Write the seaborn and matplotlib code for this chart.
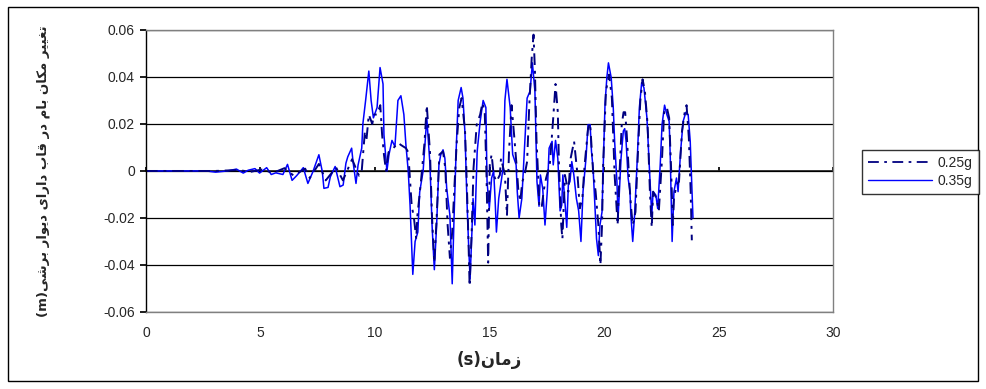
import matplotlib
matplotlib.use("Agg")
import matplotlib.pyplot as plt
import seaborn as sns
import pandas as pd
from matplotlib.patches import Rectangle

# ---- data ----
t_025 = [0, 3.0, 4.05, 4.55, 5.05, 5.55, 6.05, 6.45, 6.95, 7.15, 7.55, 7.85, 8.3, 8.6, 9.0, 9.3,
         9.42, 9.56, 9.62, 9.73, 9.88, 9.96, 10.09, 10.23, 10.31, 10.39, 10.48, 10.59, 10.74, 11.0,
         11.14, 11.35, 11.45, 11.6, 11.7, 11.8, 11.85, 12.0, 12.16, 12.26, 12.4, 12.49, 12.59, 12.69,
         12.81, 12.97, 13.07, 13.17, 13.27, 13.37, 13.47, 13.57, 13.68, 13.78, 13.93, 14.01, 14.08,
         14.13, 14.23, 14.3, 14.44, 14.59, 14.69, 14.79, 14.87, 14.94, 15.01, 15.09, 15.18, 15.3,
         15.45, 15.5, 15.67, 15.76, 15.85, 15.96, 16.07, 16.19, 16.25, 16.34, 16.43, 16.53, 16.64,
         16.73, 16.84, 16.92, 16.98, 17.05, 17.12, 17.17, 17.27, 17.37, 17.47, 17.63, 17.78, 17.88,
         17.98, 18.03, 18.13, 18.18, 18.29, 18.44, 18.54, 18.69, 18.84, 18.94, 19.05, 19.15, 19.3,
         19.39, 19.52, 19.63, 19.75, 19.84, 19.91, 19.96, 20.08, 20.22, 20.34, 20.46, 20.59, 20.67,
         20.77, 20.85, 20.92, 20.99, 21.1, 21.17, 21.25, 21.37, 21.48, 21.58, 21.68, 21.78, 21.9,
         22.0, 22.08, 22.14, 22.29, 22.39, 22.53, 22.62, 22.74, 22.84, 22.92, 23.0, 23.05, 23.16,
         23.27, 23.4, 23.52, 23.6, 23.7, 23.78, 23.83]
v_025 = [0, 0, 0.0004, -0.0004, 0.0006, -0.0008, 0.0012, -0.002, 0.001, -0.003, 0.003, -0.004,
         0.0015, -0.004, 0.005, -0.002,
         0.0, 0.017, 0.0126, 0.024, 0.02, 0.024, 0.024, 0.028, 0.0154, 0.007, 0.0, 0.008, 0.009,
         0.012, 0.011, 0.0097, 0.008, -0.0146, -0.020, -0.029, -0.019, -0.005, 0.012, 0.028, 0.008,
         -0.02, -0.039, -0.02, 0.007, 0.0083, 0.001, -0.023, -0.037, -0.026, -0.006, 0.0126, 0.027,
         0.031, 0.017, -0.006, -0.03, -0.049, -0.023, 0.0011, 0.0197, 0.024, 0.029, 0.025, -0.003,
         -0.039, 0.0026, 0.007, -0.0017, -0.0045, -0.0017, 0.0054, -0.0017, -0.019, 0.0083, 0.028,
         0.0155, 0.0011, -0.0074, -0.013, -0.0045, -0.0017, 0.004, 0.027, 0.048, 0.058, 0.043,
         0.013, -0.0017, -0.0146, -0.0159, -0.008, -0.003, 0.0026, 0.0226, 0.037, 0.025, 0.0026,
         -0.023, -0.029, -0.0017, -0.0088, 0.0054, 0.0126, -0.0017, -0.0159, -0.0117, 0.0026,
         0.018, 0.0204, -0.0003, -0.0088, -0.023, -0.040, -0.023, 0.0026, 0.034, 0.041, 0.031,
         -0.0017, -0.023, -0.0017, 0.0197, 0.025, 0.025, 0.0154, -0.0045, -0.0146, -0.023, -0.0174,
         0.0083, 0.0297, 0.039, 0.034, 0.0197, -0.0088, -0.024, -0.0088, -0.0117, -0.017, 0.0054,
         0.025, 0.027, 0.0226, 0.0026, -0.023, -0.0117, -0.006, -0.0045, 0.0169, 0.025, 0.028,
         0.014, -0.0088, -0.0295]

t_035 = [0, 2.63, 3.04, 3.55, 3.95, 4.25, 4.46, 4.76, 4.96, 5.27, 5.47, 5.67, 5.98, 6.18, 6.38,
         6.58, 6.87, 7.07, 7.29, 7.55, 7.70, 7.77, 7.95, 8.05, 8.26, 8.47, 8.61, 8.73, 8.81, 8.98,
         9.04, 9.17, 9.26, 9.42, 9.47, 9.59, 9.73, 9.83, 9.93, 10.09, 10.22, 10.35, 10.39, 10.52,
         10.61, 10.74, 10.87, 11.0, 11.13, 11.26, 11.35, 11.45, 11.53, 11.65, 11.75, 11.87, 11.95,
         12.1, 12.26, 12.4, 12.49, 12.59, 12.69, 12.79, 12.87, 12.97, 13.05, 13.13, 13.27, 13.37,
         13.45, 13.54, 13.63, 13.76, 13.84, 13.93, 14.01, 14.08, 14.15, 14.23, 14.28, 14.36, 14.46,
         14.59, 14.72, 14.84, 14.89, 14.99, 15.09, 15.18, 15.24, 15.3, 15.4, 15.53, 15.6, 15.67,
         15.76, 15.9, 16.01, 16.16, 16.21, 16.29, 16.41, 16.54, 16.64, 16.77, 16.87, 16.98, 17.07,
         17.16, 17.22, 17.32, 17.42, 17.52, 17.6, 17.73, 17.78, 17.88, 17.98, 18.08, 18.15, 18.2,
         18.32, 18.37, 18.44, 18.51, 18.59, 18.68, 18.79, 18.89, 18.99, 19.08, 19.21, 19.3, 19.39,
         19.45, 19.52, 19.6, 19.67, 19.75, 19.82, 19.91, 19.96, 20.04, 20.12, 20.19, 20.31, 20.4,
         20.46, 20.56, 20.61, 20.74, 20.84, 20.9, 20.96, 21.05, 21.13, 21.17, 21.25, 21.33, 21.45,
         21.54, 21.64, 21.74, 21.87, 21.98, 22.08, 22.14, 22.26, 22.34, 22.45, 22.53, 22.64, 22.74,
         22.84, 22.89, 22.97, 23.05, 23.16, 23.23, 23.34, 23.45, 23.57, 23.67, 23.76, 23.88]
v_035 = [0, 0, -0.0005, 0, 0.0008, -0.0009, 0.0003, 0.001, -0.0009, 0.0014, -0.0015, -0.0008,
         -0.0015, 0.0028, -0.004, -0.002, 0.0014, -0.0053, -0.0003, 0.0069, -0.0003, -0.0074,
         -0.007, -0.0025, 0.0019, -0.0067, -0.006, 0.0033, 0.006, 0.0097, 0.004, -0.0053, 0.0025,
         0.0097, 0.02, 0.03, 0.0425, 0.03, 0.0226, 0.027, 0.044, 0.037, 0.0154, 0.0, 0.007, 0.013,
         0.0104, 0.03, 0.032, 0.024, 0.011, 0.0, -0.0146, -0.044, -0.030, -0.026, -0.009, 0.0,
         0.0226, 0.0026, -0.023, -0.042, -0.023, 0.0026, 0.0069, 0.009, 0.0054, -0.0074, -0.019,
         -0.048, -0.02, 0.0083, 0.03, 0.0355, 0.031, 0.0155, -0.0117, -0.03, -0.046, -0.026,
         -0.0117, -0.023, 0.0083, 0.021, 0.030, 0.027, -0.0045, -0.0159, -0.003, 0.0, -0.0117,
         -0.026, -0.0117, -0.003, 0.0026, 0.03, 0.039, 0.027, 0.007, 0.0026, -0.0088, -0.02,
         -0.0117, 0.0126, 0.031, 0.034, 0.046, 0.034, -0.0045, -0.015, -0.0017, -0.0074, -0.023,
         -0.0088, 0.0097, 0.0126, 0.0026, 0.013, 0.0054, -0.017, -0.0146, -0.0017, -0.017, -0.024,
         -0.006, -0.0045, 0.004, -0.0017, -0.0117, -0.017, -0.030, -0.0088, 0.0054, 0.0197, 0.0197,
         0.0083, 0.0011, -0.0146, -0.0289, -0.036, -0.023, -0.0174, 0.0011, 0.0283, 0.0397, 0.046,
         0.0397, 0.027, 0.0126, -0.0045, -0.020, 0.0054, 0.017, 0.018, 0.0126, -0.0031, -0.0088,
         -0.019, -0.030, -0.019, 0.0054, 0.0269, 0.0376, 0.0354, 0.0226, 0.0011, -0.019, -0.0088,
         -0.0103, -0.016, 0.0026, 0.0197, 0.028, 0.024, 0.0211, 0.0054, -0.030, -0.0088, -0.003,
         -0.0088, 0.0083, 0.0211, 0.025, 0.024, 0.0126, -0.020]

x_ticks = [0, 5, 10, 15, 20, 25, 30]
y_ticks = [-0.06, -0.04, -0.02, 0, 0.02, 0.04, 0.06]
y_tick_labels = ["-0.06", "-0.04", "-0.02", "0", "0.02", "0.04", "0.06"]
series_labels = ["0.25g", "0.35g"]

# Persian titles (presentation forms in visual order)
x_title = "(s)" + "\uFEE5\uFE8E\uFEE3\uFEAF"
y_title = ("(m)" + "\uFEF0\uFEB7\uFEAE\uFE91" + " " + "\uFEAD\uFE8D\uFEEE\uFEF3\uFEA9" + " "
           + "\uFEEF\uFE8D\uFEAD\uFE8D\uFEA9" + " " + "\uFE8F\uFE8E\uFED7" + " " + "\uFEAD\uFEA9" + " "
           + "\uFEE1\uFE8E\uFE91" + " " + "\uFEE5\uFE8E\uFEDC\uFEE3" + " " + "\uFEAE\uFEF4\uFEF4\uFED0\uFE97")

df025 = pd.DataFrame({"t": t_025, "v": v_025})
df035 = pd.DataFrame({"t": t_035, "v": v_035})

sns.set_theme(style="white")
plt.rcParams['font.family'] = ['Liberation Sans', 'DejaVu Sans']

fig = plt.figure(figsize=(9.86, 3.89), dpi=100)
fig.patch.set_facecolor("white")
fig.patches.append(Rectangle((0.008, 0.02), 0.984, 0.962, transform=fig.transFigure,
                             fill=False, edgecolor="black", linewidth=1.0))

ax = fig.add_axes([0.148, 0.198, 0.697, 0.725])
ax.set_facecolor("white")

sns.lineplot(data=df035, x="t", y="v", ax=ax, color="#0000FF", linewidth=1.1,
             estimator=None, sort=False, label=series_labels[1], legend=False)
sns.lineplot(data=df025, x="t", y="v", ax=ax, color="#000080", linewidth=1.4,
             estimator=None, sort=False, label=series_labels[0], legend=False,
             linestyle=(0, (6, 3, 1.5, 3)))

ax.set_xlim(0, 30)
ax.set_ylim(-0.06, 0.06)
ax.set_xticks(x_ticks)
ax.set_xticklabels([str(x) for x in x_ticks], fontsize=10)
ax.set_yticks(y_ticks)
ax.set_yticklabels(y_tick_labels, fontsize=10)
ax.yaxis.grid(True, color="black", linewidth=0.9)
ax.xaxis.grid(False)
ax.set_axisbelow(True)

for s in ["top", "right", "bottom"]:
    ax.spines[s].set_color("#808080")
    ax.spines[s].set_linewidth(1.0)
ax.spines["left"].set_color("black")
ax.spines["left"].set_linewidth(1.0)

ax.tick_params(axis="y", direction="out", length=4, color="black", left=True, pad=4)
ax.tick_params(axis="x", length=0, pad=10)

zero_axis = ax.secondary_xaxis(0.5)
zero_axis.set_xticks(x_ticks, labels=[""] * len(x_ticks))
zero_axis.tick_params(axis="x", direction="out", length=3, color="black")
zero_axis.spines["bottom"].set_color("black")
zero_axis.spines["bottom"].set_linewidth(1.2)

ax.set_xlabel(x_title, fontsize=12, fontweight="bold", family=["DejaVu Sans"])
ax.xaxis.set_label_coords(0.5, -0.14)
ax.set_ylabel(y_title, fontsize=9.5, fontweight="bold", family=["DejaVu Sans"])
ax.yaxis.set_label_coords(-0.14, 0.5)

h1, = ax.plot([], [], color="#000080", linewidth=1.3, linestyle=(0, (6, 3, 1.5, 3)))
h2, = ax.plot([], [], color="#0000FF", linewidth=1.0)
leg = fig.legend([h1, h2], series_labels, loc="upper left", bbox_to_anchor=(0.874, 0.615),
                 fontsize=10, frameon=True, fancybox=False, handlelength=4.6,
                 borderpad=0.45, labelspacing=0.3, handletextpad=0.4, borderaxespad=0)
leg.get_frame().set_edgecolor("black")
leg.get_frame().set_linewidth(1.0)

fig.savefig("out.png", dpi=100, facecolor="white")
